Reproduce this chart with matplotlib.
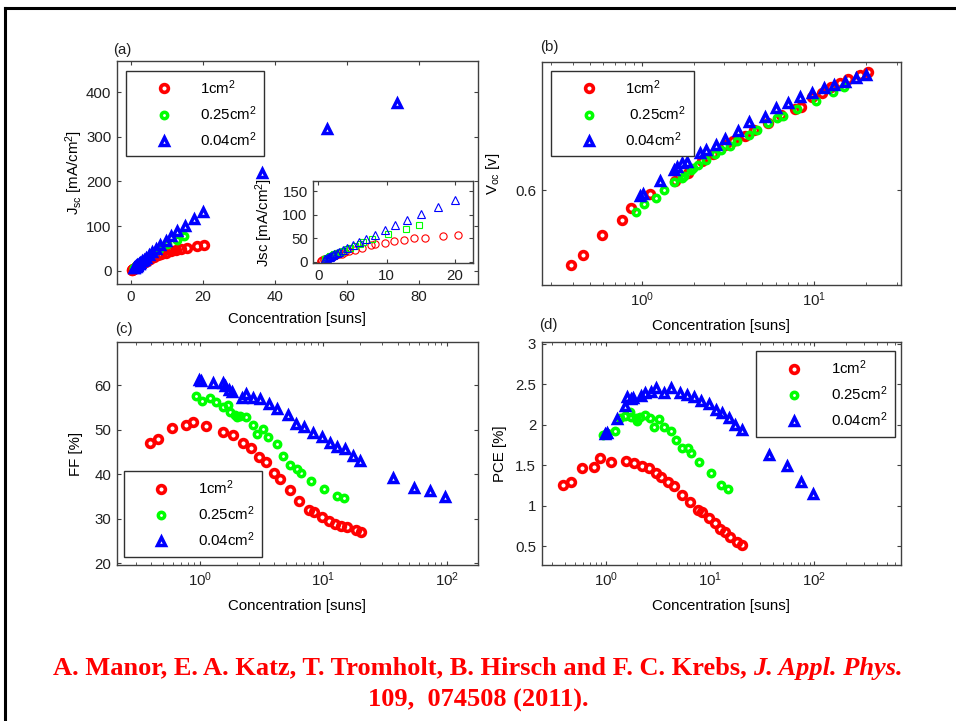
import numpy as np
import matplotlib
matplotlib.use("Agg")
import matplotlib.pyplot as plt
from matplotlib.lines import Line2D
from matplotlib.ticker import LogLocator, NullFormatter

plt.rcParams['font.family'] = ['Liberation Sans', 'DejaVu Sans']
plt.rcParams['mathtext.fontset'] = 'custom'
plt.rcParams['mathtext.rm'] = 'Liberation Sans'
plt.rcParams['mathtext.it'] = 'Liberation Sans:italic'
plt.rcParams['mathtext.bf'] = 'Liberation Sans:bold'
plt.rcParams['font.size'] = 10.8

nan = np.nan

# ---- data ----
# 1 cm^2 device
conc_1 = [0.39, 0.46, 0.59, 0.77, 0.87, 1.12, 1.55, 1.85, 2.23, 2.57, 3.03, 3.40, 3.95,
          4.45, 5.35, 6.40, 7.70, 8.35, 9.70, 11.1, 12.5, 14.0, 15.6, 18.3, 20.4]
jsc_1 = [1.9, 2.3, 3.1, 3.9, 4.6, 5.7, 8.0, 9.5, 11.4, 13.1, 15.2, 17.0, 19.8,
         22.1, 25.6, 30.0, 34.4, 36.7, 40.5, 44.3, 46.5, 49.3, 50.8, 54.5, 57.0]
voc_1 = [0.5415, 0.5493, 0.5650, 0.5767, 0.5861, 0.5971, 0.6073, 0.6136, 0.6230, 0.6284,
         0.6355, 0.6386, 0.6426, 0.6473, 0.6527, 0.6590, 0.6637, 0.6653, 0.6731, 0.6763,
         0.6810, 0.6841, 0.6872, 0.6904, 0.6928]
ff_1 = [46.9, 48.0, 50.4, 51.0, 51.6, 50.9, 49.4, 48.8, 46.9, 45.8, 43.9, 42.7, 40.3,
        38.9, 36.5, 34.0, 32.0, 31.5, 30.3, 29.4, 28.8, 28.4, 28.1, 27.5, 27.1]
pce_1 = [1.26, 1.29, 1.47, 1.48, 1.59, 1.54, 1.55, 1.53, 1.49, 1.47, 1.40, 1.36, 1.30,
         1.25, 1.14, 1.05, 0.95, 0.92, 0.85, 0.79, 0.72, 0.68, 0.62, 0.56, 0.52]

# 0.25 cm^2 device
conc_025 = [0.93, 1.03, 1.21, 1.35, 1.53, 1.70, 1.75, 1.92, 1.98, 2.11, 2.36, 2.67,
            2.88, 3.26, 3.58, 4.19, 4.68, 5.37, 6.08, 6.55, 7.90, 10.2, 12.8, 14.8]
jsc_025 = [5.2, 5.9, 6.8, 8.3, 9.7, 10.9, 11.1, 12.2, 12.4, 13.5, 15.2, 17.4,
           18.5, 21.2, 22.9, 26.9, 29.7, 33.4, 38.5, 40.8, 47.6, 58.9, 69.5, 77.5]
voc_025 = [0.5832, 0.5893, 0.5940, 0.6002, 0.6065, 0.6096, 0.6112, 0.6159, 0.6175, 0.6198,
           0.6237, 0.6284, 0.6316, 0.6347, 0.6386, 0.6433, 0.6473, 0.6527, 0.6567, 0.6582,
           0.6637, 0.6700, 0.6770, 0.6810]
ff_025 = [57.6, 56.5, 57.2, 56.3, 55.0, 55.5, 54.0, 53.3, 52.8, 53.0, 52.8, 51.0,
          48.9, 50.1, 48.3, 46.8, 44.1, 42.1, 41.1, 40.2, 38.5, 36.6, 35.0, 34.6]
pce_025 = [1.88, 1.90, 1.92, 2.09, 2.11, 2.16, 2.10, 2.08, 2.05, 2.10, 2.12, 2.09,
           1.98, 2.07, 1.97, 1.93, 1.81, 1.71, 1.71, 1.65, 1.54, 1.41, 1.26, 1.21]

# 0.04 cm^2 device
conc_004 = [0.98, 1.02, 1.28, 1.53, 1.60, 1.72, 1.82, 2.18, 2.35, 2.70, 3.05, 3.60, 4.20,
            5.15, 6.00, 7.00, 8.25, 9.70, 11.3, 13.0, 15.1, 17.5, 20.0, 36.5, 54.5, 74.0, 97.0]
jsc_004 = [5.1, 5.3, 7.2, 9.2, 10.1, 10.9, 11.7, 14.3, 15.4, 17.9, 20.6, 23.9, 28.8,
           35.1, 41.8, 48.7, 57.0, 67.0, 77.2, 88.6, 100.3, 115.6, 130.7, 218, 318, 375, nan]
voc_004 = [0.5955, 0.5971, 0.6073, 0.6159, 0.6183, 0.6214, 0.6222, 0.6292, 0.6316, 0.6355,
           0.6402, 0.6465, 0.6535, 0.6574, 0.6645, 0.6684, 0.6731, 0.6763, 0.6802, 0.6825,
           0.6849, 0.6881, 0.6904, nan, nan, nan, nan]
ff_004 = [61.2, 61.0, 60.4, 60.5, 59.8, 59.0, 58.4, 57.2, 58.0, 57.2, 56.8, 55.7, 54.6,
          53.3, 51.2, 50.5, 49.2, 48.4, 47.1, 46.2, 45.7, 44.0, 43.0, 39.2, 36.8, 36.3, 34.9]
pce_004 = [1.89, 1.90, 2.07, 2.23, 2.34, 2.32, 2.33, 2.36, 2.40, 2.41, 2.45, 2.39, 2.45,
           2.39, 2.37, 2.35, 2.29, 2.26, 2.19, 2.15, 2.08, 2.00, 1.94, 1.63, 1.49, 1.29, 1.15]

labels = ['1cm$^2$', '0.25cm$^2$', '0.04cm$^2$']
citation_main = "A. Manor, E. A. Katz, T. Tromholt, B. Hirsch and F. C. Krebs, "
citation_journal = "J. Appl. Phys."
citation_line2 = "109,  074508 (2011)."

colors = ['#ff0000', '#00ff00', '#0000ff']
markers = ['o', 'o', '^']
msizes = [5.6, 4.6, 6.0]
mews = [2.6, 2.5, 2.5]
AXCOL = '#404040'
W, H = 956, 721


def pos(left, top, right, bottom):
    return [left / W, 1 - bottom / H, (right - left) / W, (bottom - top) / H]


def style_axes(ax):
    for s in ax.spines.values():
        s.set_color(AXCOL)
        s.set_linewidth(1.0)
    ax.tick_params(which='both', direction='in', top=True, right=True, colors=AXCOL,
                   labelcolor='#202020', labelsize=10.8, pad=4)
    ax.tick_params(which='major', length=3)
    ax.tick_params(which='minor', length=2)


def log_x(ax):
    ax.set_xscale('log')
    ax.xaxis.set_major_locator(LogLocator(base=10))
    ax.xaxis.set_minor_locator(LogLocator(base=10, subs=np.arange(2, 10)))
    ax.xaxis.set_minor_formatter(NullFormatter())


def scatter_sets(ax, xs, ys):
    handles = []
    for x, y, c, m, ms, mw in zip(xs, ys, colors, markers, msizes, mews):
        h, = ax.plot(x, y, ls='none', marker=m, ms=ms, mfc='none', mec=c, mew=mw)
        handles.append(h)
    return handles


def add_legend(ax, handles, loc, anchor, labs):
    leg = ax.legend(handles, labs, loc=loc, bbox_to_anchor=anchor, borderaxespad=0,
                    numpoints=1, handlelength=4.0, handletextpad=0.45, borderpad=0.5,
                    labelspacing=0.5, fancybox=False, framealpha=1, fontsize=10.8)
    leg.get_frame().set_edgecolor('#303030')
    leg.get_frame().set_linewidth(1.0)
    return leg


fig = plt.figure(figsize=(W / 100, H / 100), dpi=100)

conc = [conc_1, conc_025, conc_004]

# (a) Jsc, linear
axa = fig.add_axes(pos(117, 61, 477.7, 284))
style_axes(axa)
ha = scatter_sets(axa, conc, [jsc_1, jsc_025, jsc_004])
axa.set_xlim(-3.8, 96.4)
axa.set_ylim(-30, 470)
axa.set_xticks([0, 20, 40, 60, 80])
axa.set_yticks([0, 100, 200, 300, 400])
axa.set_xlabel('Concentration [suns]')
axa.set_ylabel(r'J$_{\mathrm{sc}}$ [mA/cm$^2$]')
axa.xaxis.set_label_coords(0.5, -0.125)
axa.yaxis.set_label_coords(-0.09, 0.5)
add_legend(axa, ha, 'upper left', (0.025, 0.957), labels)

# inset of (a)
axi = fig.add_axes(pos(313.3, 180.7, 472.7, 263.3))
style_axes(axi)
for x, y, c, m, ms in zip(conc, [jsc_1, jsc_025, jsc_004], colors, ['o', 's', '^'], [5.2, 4.6, 5.2]):
    axi.plot(x, y, ls='none', marker=m, ms=ms, mfc='none', mec=c, mew=0.8)
axi.set_xlim(-0.73, 22.6)
axi.set_ylim(-3.5, 172)
axi.set_xticks([0, 10, 20])
axi.set_yticks([0, 50, 100, 150])
axi.set_ylabel('Jsc [mA/cm$^2$]')
axi.yaxis.set_label_coords(-0.24, 0.5)

# (b) Voc
axb = fig.add_axes(pos(541.7, 61.7, 901, 285))
style_axes(axb)
log_x(axb)
hb = scatter_sets(axb, conc, [voc_1, voc_025, voc_004])
axb.set_xlim(0.2636, 31.72)
axb.set_ylim(0.5258, 0.7008)
axb.set_yticks([0.6])
axb.set_yticklabels(['0.6'])
axb.set_xlabel('Concentration [suns]')
axb.set_ylabel(r'V$_{\mathrm{oc}}$ [v]')
axb.xaxis.set_label_coords(0.5, -0.152)
axb.yaxis.set_label_coords(-0.11, 0.5)
add_legend(axb, hb, 'upper left', (0.026, 0.96), [labels[0], ' ' + labels[1], labels[2]])

# (c) FF
axc = fig.add_axes(pos(116.7, 342.3, 477.7, 565))
style_axes(axc)
log_x(axc)
hc = scatter_sets(axc, conc, [ff_1, ff_025, ff_004])
axc.set_xlim(0.211, 178.7)
axc.set_ylim(19.6, 69.6)
axc.set_yticks([20, 30, 40, 50, 60])
axc.set_xlabel('Concentration [suns]')
axc.set_ylabel('FF [%]')
axc.xaxis.set_label_coords(0.5, -0.152)
axc.yaxis.set_label_coords(-0.093, 0.5)
add_legend(axc, hc, 'lower left', (0.02, 0.037), labels)

# (d) PCE
axd = fig.add_axes(pos(541.7, 342.3, 901, 565))
style_axes(axd)
log_x(axd)
hd = scatter_sets(axd, conc, [pce_1, pce_025, pce_004])
axd.set_xlim(0.2414, 679.6)
axd.set_ylim(0.27, 3.02)
axd.set_yticks([0.5, 1, 1.5, 2, 2.5, 3])
axd.set_yticklabels(['0.5', '1', '1.5', '2', '2.5', '3'])
axd.set_xlabel('Concentration [suns]')
axd.set_ylabel('PCE [%]')
axd.xaxis.set_label_coords(0.5, -0.151)
axd.yaxis.set_label_coords(-0.097, 0.5)
add_legend(axd, hd, 'upper right', (0.983, 0.962), labels)

# panel letters
for txt, px, py in [('(a)', 122, 50), ('(b)', 549, 47), ('(c)', 124, 329), ('(d)', 548, 325)]:
    fig.text(px / W, 1 - py / H, txt, ha='center', va='center', fontsize=10.8, color='#202020')

# slide frame
fig.add_artist(Line2D([5 / W, 1.0], [1 - 8 / H, 1 - 8 / H], transform=fig.transFigure, color='k', lw=2.2))
fig.add_artist(Line2D([5 / W, 5 / W], [0.0, 1 - 8 / H], transform=fig.transFigure, color='k', lw=2.2))

# citation
serif = ['Liberation Serif', 'DejaVu Serif']
t1 = fig.text(0, 1 - 668 / H, citation_main, color='#ff0000', family=serif, weight='bold',
              fontsize=19, va='center', ha='left')
t2 = fig.text(0, 1 - 668 / H, citation_journal, color='#ff0000', family=serif, weight='bold',
              style='italic', fontsize=19, va='center', ha='left')
fig.text(0.5, 1 - 700 / H, citation_line2, color='#ff0000', family=serif, weight='bold',
         fontsize=19, va='center', ha='center')
fig.canvas.draw()
r = fig.canvas.get_renderer()
w1 = t1.get_window_extent(r).width
w2 = t2.get_window_extent(r).width
x0 = (W - (w1 + w2)) / 2
t1.set_x(x0 / W)
t2.set_x((x0 + w1) / W)

fig.savefig('out.png', dpi=100)
